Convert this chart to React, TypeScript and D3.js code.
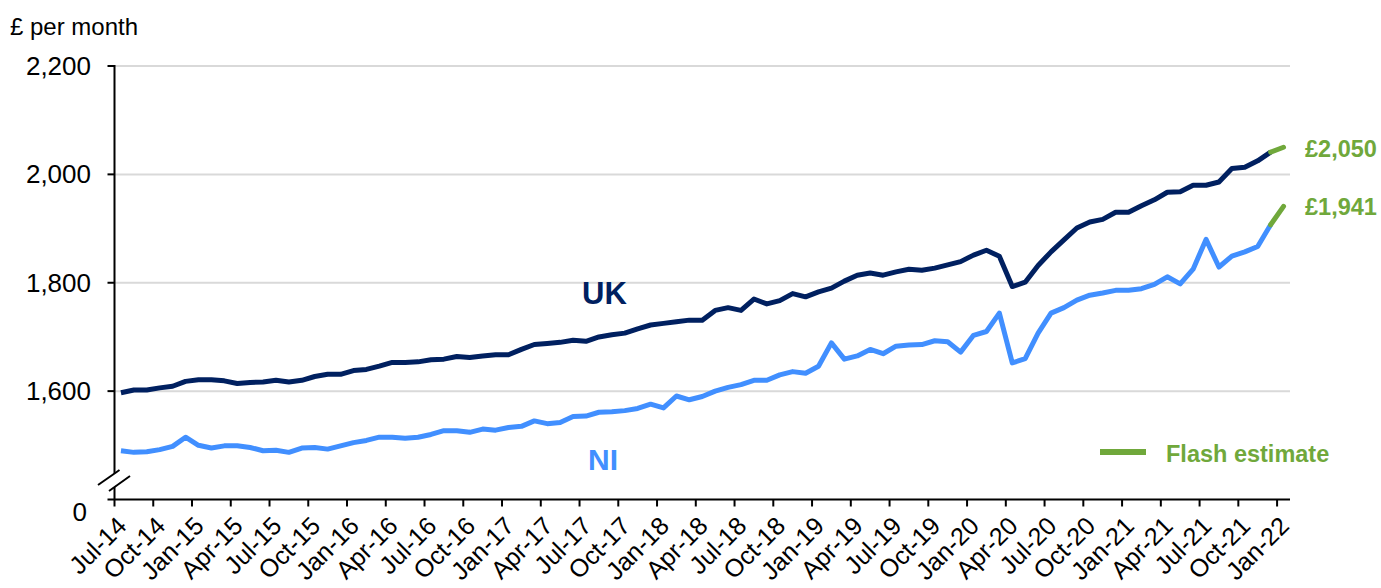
import * as d3 from 'd3';

const months: Date[] = d3.timeMonth.range(new Date(2014, 6, 1), new Date(2022, 1, 1));

const ukPay = [
  1597, 1602, 1602, 1606, 1609, 1618, 1621, 1621, 1619, 1614, 1616, 1617,
  1620, 1617, 1620, 1627, 1631, 1631, 1638, 1640, 1646, 1653, 1653, 1654,
  1658, 1659, 1664, 1662, 1665, 1667, 1667, 1677, 1686, 1688, 1690, 1694,
  1692, 1700, 1704, 1707, 1715, 1722, 1725, 1728, 1731, 1731, 1749, 1754,
  1749, 1770, 1761, 1767, 1780, 1774, 1783, 1790, 1803, 1814, 1818, 1814,
  1820, 1825, 1823, 1827, 1833, 1839, 1851, 1860, 1849, 1793, 1801, 1832,
  1857, 1879, 1901, 1912, 1917, 1930, 1930, 1942, 1953, 1967, 1968, 1980,
  1980, 1986, 2011, 2013, 2025, 2041, 2050,
];

const niPay = [
  1490, 1487, 1488, 1492, 1498, 1515, 1500, 1495, 1499, 1499, 1496, 1490,
  1491, 1487, 1495, 1496, 1493, 1499, 1505, 1509, 1515, 1515, 1513, 1515,
  1520, 1527, 1527, 1524, 1530, 1528, 1533, 1535, 1545, 1540, 1542, 1553,
  1554, 1561, 1562, 1564, 1568, 1576, 1569, 1591, 1584, 1590, 1600, 1607,
  1612, 1620, 1620, 1630, 1636, 1633, 1646, 1689, 1659, 1665, 1677, 1669,
  1683, 1685, 1686, 1693, 1691, 1672, 1703, 1710, 1744, 1652, 1660, 1707,
  1744, 1754, 1768, 1777, 1781, 1786, 1786, 1789, 1797, 1811, 1798, 1825,
  1880, 1829, 1849, 1857, 1867, 1907, 1941,
];

// last points are flash estimates
const flashFrom = 89;

const tickLabels = [
  'Jul-14', 'Oct-14', 'Jan-15', 'Apr-15', 'Jul-15', 'Oct-15', 'Jan-16', 'Apr-16',
  'Jul-16', 'Oct-16', 'Jan-17', 'Apr-17', 'Jul-17', 'Oct-17', 'Jan-18', 'Apr-18',
  'Jul-18', 'Oct-18', 'Jan-19', 'Apr-19', 'Jul-19', 'Oct-19', 'Jan-20', 'Apr-20',
  'Jul-20', 'Oct-20', 'Jan-21', 'Apr-21', 'Jul-21', 'Oct-21', 'Jan-22',
];

const yTicks = [1600, 1800, 2000, 2200];

const NAVY = '#002060';
const BLUE = '#418FFF';
const GREEN = '#70A83B';
const FONT = 'Liberation Sans, Arial, sans-serif';

export default function App() {
  const left = 114.5;
  const right = 1290;
  const top = 66;
  const bottom = 499.5;

  const x = d3.scalePoint<number>()
    .domain(d3.range(months.length))
    .range([left, right])
    .padding(0.5);
  const step = x.step();

  const y = d3.scaleLinear().domain([1400, 2200]).range([bottom, top]);

  const line = d3.line<number>()
    .x((_, i) => x(i) as number)
    .y(d => y(d));

  const lineFrom = (vals: number[], start: number) =>
    d3.line<number>()
      .x((_, i) => x(i + start) as number)
      .y(d => y(d))(vals) as string;

  const tickIdx = d3.range(0, months.length, 3);

  return (
    <div style={{ position: 'absolute', left: 0, top: 0 }}>
      <svg width={1381} height={588} style={{ display: 'block', fontFamily: FONT }}>
        <rect width={1381} height={588} fill="#fff" />

        <text x={10} y={35} fontSize={24} fill="#000">£ per month</text>

        {yTicks.map(t => (
          <g key={t}>
            <line x1={left} x2={right} y1={y(t)} y2={y(t)} stroke="#D9D9D9" strokeWidth={2} />
            <line x1={left - 7} x2={left} y1={y(t)} y2={y(t)} stroke="#000" strokeWidth={2} />
            <text x={91} y={y(t) + 9} fontSize={26} textAnchor="end" fill="#000">
              {d3.format(',')(t)}
            </text>
          </g>
        ))}
        <text x={87} y={521} fontSize={26} textAnchor="end" fill="#000">0</text>

        {/* axes */}
        <line x1={left} x2={left} y1={top - 1} y2={bottom} stroke="#000" strokeWidth={2} />
        <line x1={left - 7} x2={right} y1={bottom} y2={bottom} stroke="#000" strokeWidth={2} />
        {tickIdx.map(i => (
          <line key={i} x1={left + i * step} x2={left + i * step} y1={bottom} y2={bottom + 7}
            stroke="#000" strokeWidth={2} />
        ))}

        {/* axis break */}
        <polygon points="98,485 119,470 129,476 110,490" fill="#fff" />
        <line x1={98} y1={485} x2={119.5} y2={470} stroke="#000" strokeWidth={2} />
        <line x1={109} y1={491} x2={130} y2={476} stroke="#000" strokeWidth={2} />

        {tickIdx.map((i, k) => (
          <text key={i} fontSize={25} textAnchor="end" fill="#000"
            transform={`translate(${(x(i) as number) + 7},${bottom + 28}) rotate(-45)`}>
            {tickLabels[k]}
          </text>
        ))}

        {/* series */}
        <path d={line(ukPay.slice(0, flashFrom + 1)) as string} fill="none" stroke={NAVY}
          strokeWidth={5} strokeLinejoin="round" />
        <path d={line(niPay.slice(0, flashFrom + 1)) as string} fill="none" stroke={BLUE}
          strokeWidth={5} strokeLinejoin="round" />
        <path d={lineFrom(ukPay.slice(flashFrom), flashFrom)} fill="none" stroke={GREEN}
          strokeWidth={5} strokeLinecap="round" />
        <path d={lineFrom(niPay.slice(flashFrom), flashFrom)} fill="none" stroke={GREEN}
          strokeWidth={5} strokeLinecap="round" />

        {/* labels */}
        <text x={582} y={304} fontSize={31} fontWeight="bold" fill={NAVY}>UK</text>
        <text x={588} y={470} fontSize={30} fontWeight="bold" fill={BLUE}>NI</text>
        <text x={1305} y={157} fontSize={23.5} fontWeight="bold" fill={GREEN}>£2,050</text>
        <text x={1305} y={215} fontSize={23.5} fontWeight="bold" fill={GREEN}>£1,941</text>

        <line x1={1100} x2={1146} y1={452} y2={452} stroke={GREEN} strokeWidth={6} />
        <text x={1166} y={462} fontSize={23.5} fontWeight="bold" fill={GREEN}>Flash estimate</text>
      </svg>
    </div>
  );
}
